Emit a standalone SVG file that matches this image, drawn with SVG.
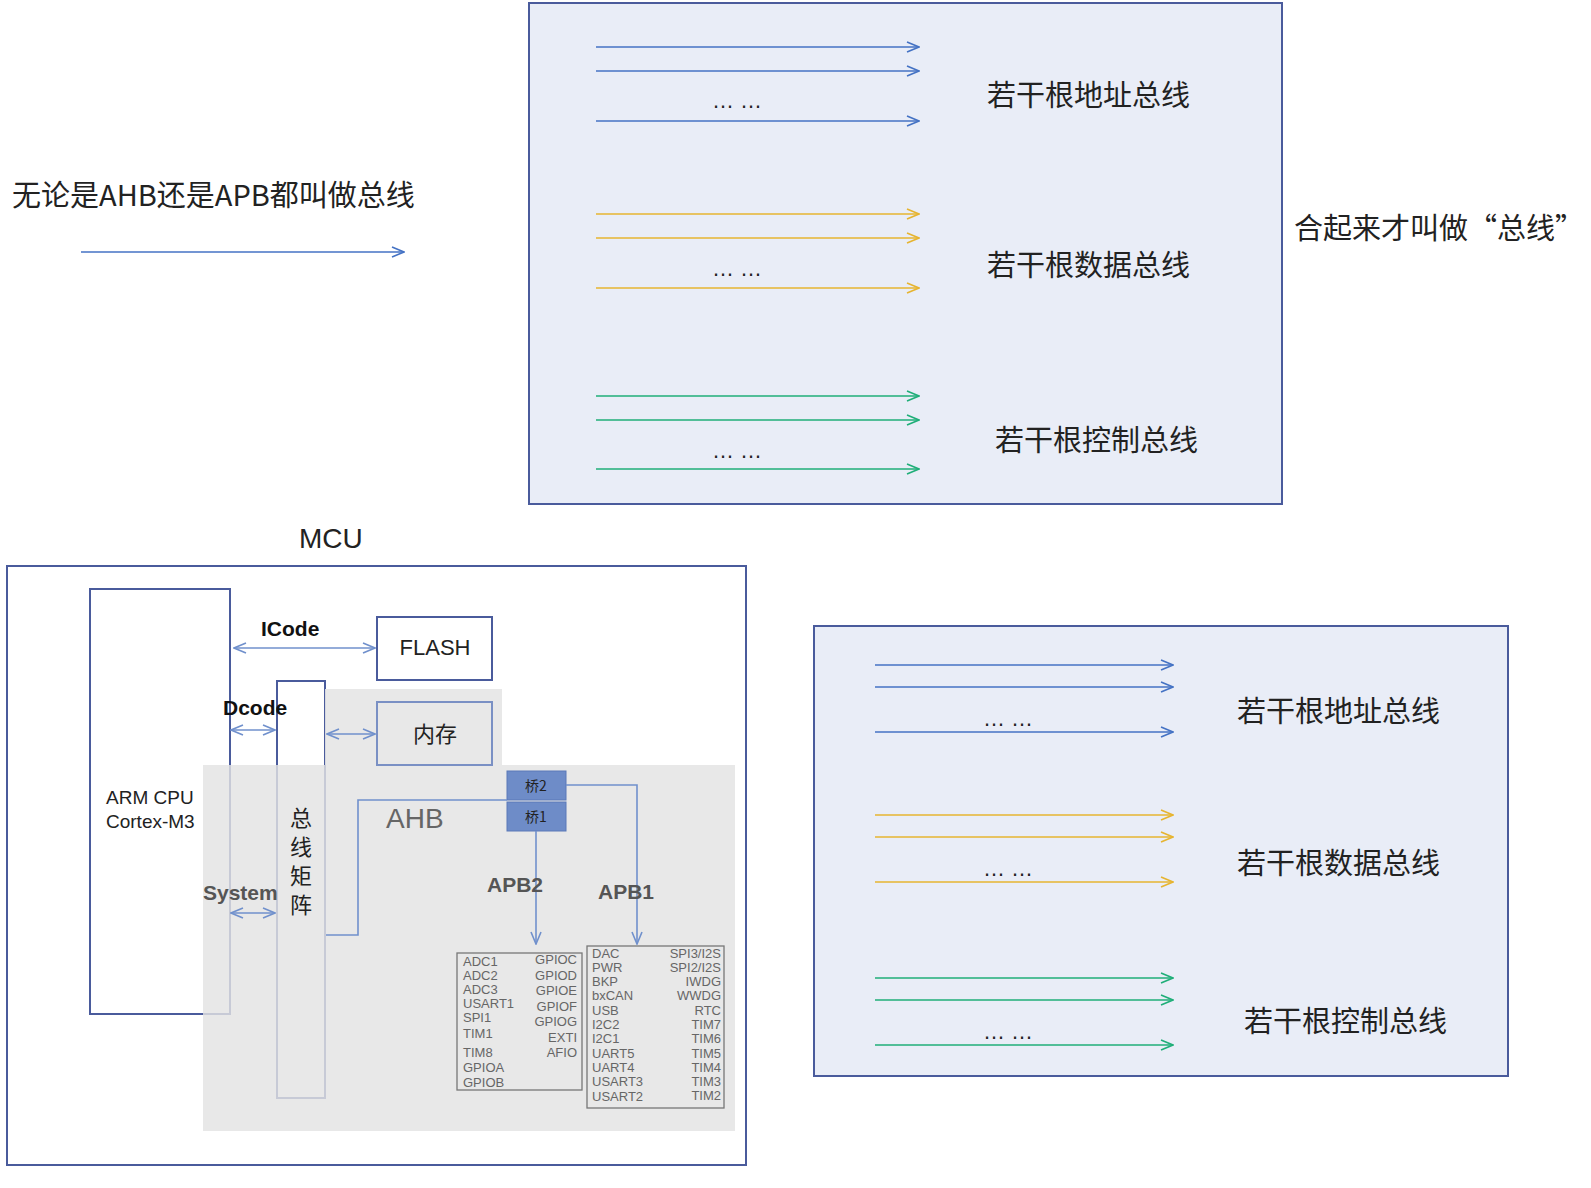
<svg xmlns="http://www.w3.org/2000/svg" width="1591" height="1188" viewBox="0 0 1591 1188">
<style>
.cn{font-family:"Noto Sans CJK SC","Liberation Sans",sans-serif;fill:#222}
.lt{font-family:"Liberation Sans",Arial,sans-serif}
.b{stroke:#4472c4;stroke-width:1.6;fill:none}
.y{stroke:#e6b430;stroke-width:1.6;fill:none}
.g{stroke:#1fae78;stroke-width:1.6;fill:none}
.box{fill:#e9edf7;stroke:#4a5b9c;stroke-width:2}
.bl{stroke:#7090cc;stroke-width:1.6;fill:none}
.per{font-family:"Liberation Sans",Arial,sans-serif;font-size:13px;fill:#666}
</style>
<defs>
<marker id="ab" markerWidth="14" markerHeight="12" refX="13" refY="6" orient="auto" markerUnits="userSpaceOnUse"><path d="M1,1 L13,6 L1,11" fill="none" stroke="#4472c4" stroke-width="1.6"/></marker>
<marker id="ay" markerWidth="14" markerHeight="12" refX="13" refY="6" orient="auto" markerUnits="userSpaceOnUse"><path d="M1,1 L13,6 L1,11" fill="none" stroke="#e6b430" stroke-width="1.6"/></marker>
<marker id="ag" markerWidth="14" markerHeight="12" refX="13" refY="6" orient="auto" markerUnits="userSpaceOnUse"><path d="M1,1 L13,6 L1,11" fill="none" stroke="#1fae78" stroke-width="1.6"/></marker>
<marker id="am" markerWidth="14" markerHeight="12" refX="13" refY="6" orient="auto-start-reverse" markerUnits="userSpaceOnUse"><path d="M1,1 L13,6 L1,11" fill="none" stroke="#7090cc" stroke-width="1.6"/></marker>
</defs>

<g id="intro">
<text class="cn" x="12" y="206" font-size="29">无论是AHB还是APB都叫做总线</text>
<line class="b" x1="81" y1="252" x2="404" y2="252" marker-end="url(#ab)"/>
</g>

<g id="bus-top">
<rect class="box" x="529" y="3" width="753" height="501"/>
<g>
<line class="b" x1="596" y1="47" x2="919" y2="47" marker-end="url(#ab)"/>
<line class="b" x1="596" y1="71" x2="919" y2="71" marker-end="url(#ab)"/>
<line class="b" x1="596" y1="121" x2="919" y2="121" marker-end="url(#ab)"/>
<line class="y" x1="596" y1="214" x2="919" y2="214" marker-end="url(#ay)"/>
<line class="y" x1="596" y1="238" x2="919" y2="238" marker-end="url(#ay)"/>
<line class="y" x1="596" y1="288" x2="919" y2="288" marker-end="url(#ay)"/>
<line class="g" x1="596" y1="396" x2="919" y2="396" marker-end="url(#ag)"/>
<line class="g" x1="596" y1="420" x2="919" y2="420" marker-end="url(#ag)"/>
<line class="g" x1="596" y1="469" x2="919" y2="469" marker-end="url(#ag)"/>
</g>
<text class="lt" x="712" y="108" font-size="22" fill="#222">… …</text>
<text class="lt" x="712" y="276" font-size="22" fill="#222">… …</text>
<text class="lt" x="712" y="458" font-size="22" fill="#222">… …</text>
<text class="cn" x="987" y="106" font-size="29">若干根地址总线</text>
<text class="cn" x="987" y="276" font-size="29">若干根数据总线</text>
<text class="cn" x="995" y="451" font-size="29">若干根控制总线</text>
</g>
<text class="cn" x="1294" y="239" font-size="29">合起来才叫做“总线”</text>

<g id="bus-bottom">
<rect class="box" x="814" y="626" width="694" height="450"/>
<line class="b" x1="875" y1="665" x2="1173" y2="665" marker-end="url(#ab)"/>
<line class="b" x1="875" y1="687" x2="1173" y2="687" marker-end="url(#ab)"/>
<line class="b" x1="875" y1="732" x2="1173" y2="732" marker-end="url(#ab)"/>
<line class="y" x1="875" y1="815" x2="1173" y2="815" marker-end="url(#ay)"/>
<line class="y" x1="875" y1="837" x2="1173" y2="837" marker-end="url(#ay)"/>
<line class="y" x1="875" y1="882" x2="1173" y2="882" marker-end="url(#ay)"/>
<line class="g" x1="875" y1="978" x2="1173" y2="978" marker-end="url(#ag)"/>
<line class="g" x1="875" y1="1000" x2="1173" y2="1000" marker-end="url(#ag)"/>
<line class="g" x1="875" y1="1045" x2="1173" y2="1045" marker-end="url(#ag)"/>
<text class="lt" x="983" y="726" font-size="22" fill="#222">… …</text>
<text class="lt" x="983" y="876" font-size="22" fill="#222">… …</text>
<text class="lt" x="983" y="1039" font-size="22" fill="#222">… …</text>
<text class="cn" x="1237" y="722" font-size="29">若干根地址总线</text>
<text class="cn" x="1237" y="874" font-size="29">若干根数据总线</text>
<text class="cn" x="1244" y="1032" font-size="29">若干根控制总线</text>
</g>

<g id="mcu">
<text class="lt" x="299" y="548" font-size="28" fill="#222">MCU</text>
<rect x="7" y="566" width="739" height="599" fill="#fff" stroke="#4a5b9c" stroke-width="2"/>
</g>
<g id="cpu">
<rect x="90" y="589" width="140" height="425" fill="#fff" stroke="#4a5b9c" stroke-width="2"/>
<text class="lt" x="106" y="804" font-size="19" fill="#222">ARM CPU</text>
<text class="lt" x="106" y="828" font-size="19" fill="#222">Cortex-M3</text>
</g>
<g id="flash">
<rect x="377" y="617" width="115" height="63" fill="#fff" stroke="#4a5b9c" stroke-width="2"/>
<text class="lt" x="435" y="655" font-size="22" fill="#222" text-anchor="middle">FLASH</text>
</g>
<g id="matrix">
<rect x="277" y="681" width="48" height="417" fill="#fff" stroke="#4a5b9c" stroke-width="2"/>
</g>
<g id="gray">
<rect x="325" y="689" width="177" height="76" fill="#e6e6e6" opacity="0.9"/>
<rect x="203" y="765" width="532" height="366" fill="#e3e3e3" opacity="0.82"/>
</g>
<g id="ram">
<rect x="377" y="702" width="115" height="63" fill="none" stroke="#7a90c4" stroke-width="2"/>
<text class="cn" x="435" y="742" font-size="22" fill="#666" text-anchor="middle">内存</text>
</g>
<text class="cn" x="301" y="826" font-size="22" fill="#666" text-anchor="middle">总</text>
<text class="cn" x="301" y="855" font-size="22" fill="#666" text-anchor="middle">线</text>
<text class="cn" x="301" y="884" font-size="22" fill="#666" text-anchor="middle">矩</text>
<text class="cn" x="301" y="913" font-size="22" fill="#666" text-anchor="middle">阵</text>
<g id="bridges">
<rect x="507" y="771" width="59" height="29" fill="#6e8cc8" stroke="#5a78b8"/>
<text class="cn" x="536" y="791" font-size="14" fill="#eef" text-anchor="middle">桥2</text>
<rect x="507" y="802" width="59" height="29" fill="#6e8cc8" stroke="#5a78b8"/>
<text class="cn" x="536" y="822" font-size="14" fill="#eef" text-anchor="middle">桥1</text>
</g>
<g id="apb2-box">
<rect x="457" y="953" width="125" height="137" fill="none" stroke="#777" stroke-width="1.3"/>
<text class="per" x="463" y="966">ADC1</text><text class="per" x="463" y="980">ADC2</text><text class="per" x="463" y="994">ADC3</text>
<text class="per" x="463" y="1008">USART1</text><text class="per" x="463" y="1022">SPI1</text><text class="per" x="463" y="1038">TIM1</text>
<text class="per" x="463" y="1057">TIM8</text><text class="per" x="463" y="1072">GPIOA</text><text class="per" x="463" y="1087">GPIOB</text>
<g text-anchor="end">
<text class="per" x="577" y="964">GPIOC</text><text class="per" x="577" y="980">GPIOD</text><text class="per" x="577" y="995">GPIOE</text>
<text class="per" x="577" y="1011">GPIOF</text><text class="per" x="577" y="1026">GPIOG</text><text class="per" x="577" y="1042">EXTI</text><text class="per" x="577" y="1057">AFIO</text>
</g>
</g>
<g id="apb1-box">
<rect x="587" y="946" width="137" height="162" fill="none" stroke="#777" stroke-width="1.3"/>
<text class="per" x="592" y="958">DAC</text><text class="per" x="592" y="972">PWR</text><text class="per" x="592" y="986">BKP</text>
<text class="per" x="592" y="1000">bxCAN</text><text class="per" x="592" y="1015">USB</text><text class="per" x="592" y="1029">I2C2</text>
<text class="per" x="592" y="1043">I2C1</text><text class="per" x="592" y="1058">UART5</text><text class="per" x="592" y="1072">UART4</text>
<text class="per" x="592" y="1086">USART3</text><text class="per" x="592" y="1101">USART2</text>
<g text-anchor="end">
<text class="per" x="721" y="958">SPI3/I2S</text><text class="per" x="721" y="972">SPI2/I2S</text><text class="per" x="721" y="986">IWDG</text>
<text class="per" x="721" y="1000">WWDG</text><text class="per" x="721" y="1015">RTC</text><text class="per" x="721" y="1029">TIM7</text>
<text class="per" x="721" y="1043">TIM6</text><text class="per" x="721" y="1058">TIM5</text><text class="per" x="721" y="1072">TIM4</text>
<text class="per" x="721" y="1086">TIM3</text><text class="per" x="721" y="1100">TIM2</text>
</g>
</g>
<g id="connectors">
<line class="bl" x1="234" y1="648" x2="375" y2="648" marker-start="url(#am)" marker-end="url(#am)"/>
<line class="bl" x1="231" y1="730" x2="275" y2="730" marker-start="url(#am)" marker-end="url(#am)"/>
<line class="bl" x1="327" y1="734" x2="375" y2="734" marker-start="url(#am)" marker-end="url(#am)"/>
<line class="bl" x1="231" y1="913" x2="275" y2="913" marker-start="url(#am)" marker-end="url(#am)"/>
<polyline class="bl" points="326,935 358,935 358,800 507,800"/>
<polyline class="bl" points="566,785 637,785 637,944" marker-end="url(#am)"/>
<line class="bl" x1="536" y1="831" x2="536" y2="944" marker-end="url(#am)"/>
</g>
<text class="lt" x="261" y="636" font-size="21" font-weight="bold" fill="#111">ICode</text>
<text class="lt" x="223" y="715" font-size="21" font-weight="bold" fill="#111">Dcode</text>
<text class="lt" x="203" y="900" font-size="21" font-weight="bold" fill="#555">System</text>
<text class="lt" x="386" y="828" font-size="28" fill="#666">AHB</text>
<text class="lt" x="487" y="892" font-size="21" font-weight="bold" fill="#555">APB2</text>
<text class="lt" x="598" y="899" font-size="21" font-weight="bold" fill="#555">APB1</text>
</svg>
